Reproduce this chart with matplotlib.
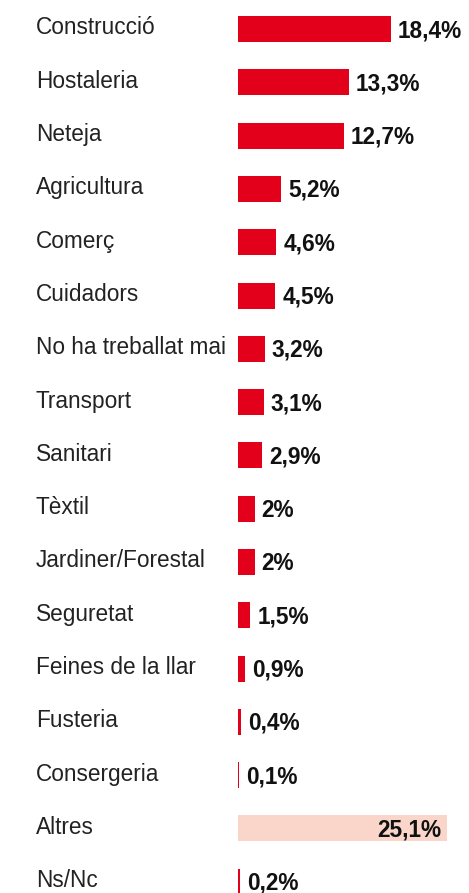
import matplotlib.pyplot as plt

plt.rcParams['font.family'] = ['Liberation Sans', 'DejaVu Sans']

categories = ["Construcció", "Hostaleria", "Neteja", "Agricultura", "Comerç",
              "Cuidadors", "No ha treballat mai", "Transport", "Sanitari", "Tèxtil",
              "Jardiner/Forestal", "Seguretat", "Feines de la llar", "Fusteria",
              "Consergeria", "Altres", "Ns/Nc"]
values = [18.4, 13.3, 12.7, 5.2, 4.6, 4.5, 3.2, 3.1, 2.9, 2.0, 2.0, 1.5, 0.9, 0.4, 0.1, 25.1, 0.2]
labels = ["18,4%", "13,3%", "12,7%", "5,2%", "4,6%", "4,5%", "3,2%", "3,1%", "2,9%",
          "2%", "2%", "1,5%", "0,9%", "0,4%", "0,1%", "25,1%", "0,2%"]

RED = "#e2001a"
PEACH = "#f9d6c9"
W, H = 469, 893
PX = 8.32      # pixels per percentage point
X0 = 238       # pixel where bars start
PITCH = 53.3   # pixels per row
Y0 = 29        # centre of first row

fig = plt.figure(figsize=(W / 100, H / 100), dpi=100)
ax = fig.add_axes([0, 0, 1, 1])
ax.set_xlim(-X0 / PX, (W - X0) / PX)
ax.set_ylim((H - Y0) / PITCH, -Y0 / PITCH)
ax.axis("off")

pos = list(range(len(categories)))
colors = [PEACH if c == "Altres" else RED for c in categories]
ax.barh(pos, values, height=26 / PITCH, color=colors, linewidth=0)

for i, (cat, v, lab) in enumerate(zip(categories, values, labels)):
    ax.text(-(X0 - 36) / PX, i - 0.02, cat, ha="left", va="center",
            fontsize=16.3, color="#222222")
    if cat == "Altres":
        ax.text(v - 0.7, i + 0.03, lab, ha="right", va="center",
                fontsize=16.3, fontweight="bold", color="#111111")
    else:
        ax.text(v + 7 / PX, i + 0.03, lab, ha="left", va="center",
                fontsize=16.3, fontweight="bold", color="#111111")

fig.savefig("out.png", dpi=100)
